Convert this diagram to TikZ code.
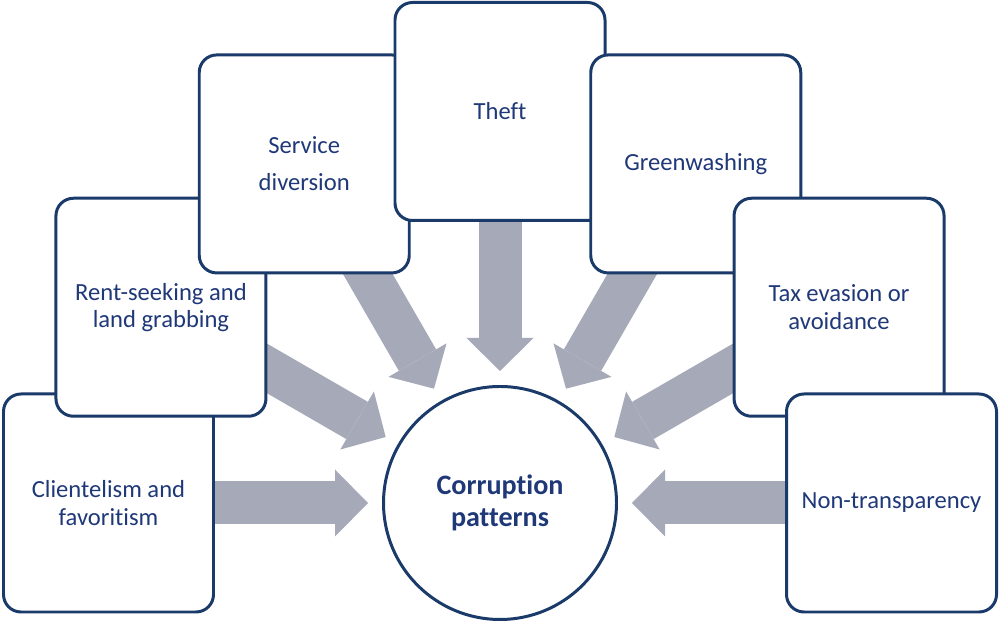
\documentclass[tikz,border=0pt]{standalone}
\usepackage{fontspec}
\setmainfont{Carlito}[Ligatures=CommonOff]
\usetikzlibrary{calc,arrows.meta,backgrounds,positioning}
\definecolor{boxline}{RGB}{26,58,106}
\definecolor{boxtext}{RGB}{31,56,120}
\definecolor{flow}{RGB}{166,170,184}

\begin{document}
\begin{tikzpicture}[
  pattern/.style={draw=boxline,line width=1.7pt,fill=white,rounded corners=3.5mm,
    minimum width=4.2cm,minimum height=4.36cm,align=center,text=boxtext,
    font=\fontsize{14}{15.5}\selectfont},
  core/.style={circle,draw=boxline,line width=1.7pt,fill=white,minimum size=4.66cm,
    align=center,text=boxtext,font=\fontsize{16}{18}\selectfont\bfseries},
  feed/.style={flow,line width=0.86cm,
    -{Triangle[length=0.66cm,width=1.34cm,line width=0pt]},
    shorten >=0.28cm,shorten <=-0.4cm}
]
\useasboundingbox (0,0) rectangle (20,12.62);

% Central circle
\node[core] (core) at (10,2.56) {Corruption\\patterns};

% Pattern boxes on a half ring, drawn left to right
\foreach \ang/\name/\txt in {180/client/{Clientelism and\\favoritism},
    150/rent/{Rent-seeking and\\land grabbing},
    120/service/{Service\\[0.2cm]diversion},
    90/theft/{Theft},
    60/green/{Greenwashing},
    30/tax/{Tax evasion or\\avoidance},
    0/opaque/{Non-transparency}}
  \node[pattern] (\name) at ($(core.center)+(\ang:7.83)$) {\txt};

% Flows into the circle
\begin{scope}[on background layer]
\foreach \name in {client,rent,service,theft,green,tax,opaque}
  \draw[feed] (\name) -- (core);
\end{scope}

\end{tikzpicture}
\end{document}
